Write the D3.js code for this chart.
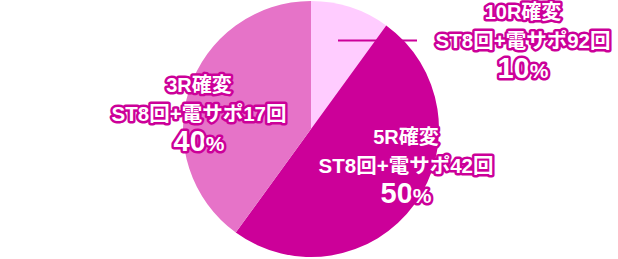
<!DOCTYPE html>
<meta charset="utf-8">
<style>
body { margin: 0; background: #fff; }
.lbl text {
  font-family: "Liberation Sans", "Noto Sans CJK JP", sans-serif;
  font-weight: bold;
  text-anchor: middle;
  fill: #fff;
  stroke: #cc0099;
  stroke-width: 5px;
  stroke-linejoin: round;
  paint-order: stroke;
}
</style>
<svg width="618" height="259"></svg>
<script src="https://cdn.jsdelivr.net/npm/d3@7"></script>
<script>

var names = ["10R確変", "5R確変", "3R確変"];
var details = ["ST8回+電サポ92回", "ST8回+電サポ42回", "ST8回+電サポ17回"];
var shares = [10, 50, 40];
var colors = ["#ffccff", "#cc0099", "#e673c8"];

var svg = d3.select("svg"),
    cx = 311, cy = 129, radius = 128;

var pie = d3.pie().sort(null).value(function(d) { return d; });
var arc = d3.arc().innerRadius(0).outerRadius(radius);

var g = svg.append("g").attr("transform", "translate(" + cx + "," + cy + ")");

g.selectAll("path")
    .data(pie(shares))
    .enter().append("path")
    .attr("d", arc)
    .attr("fill", function(d, i) { return colors[i]; });

// leader line for the small slice
svg.append("line")
    .attr("x1", 338).attr("x2", 417)
    .attr("y1", 40.5).attr("y2", 40.5)
    .attr("stroke", "#cc0099")
    .attr("stroke-width", 2);

// label anchor positions (centre x, first line baseline)
var labelPos = [[523, 19], [406, 144], [199, 92]];

var lbl = svg.selectAll(".lbl")
    .data(names)
    .enter().append("g")
    .attr("class", "lbl")
    .attr("transform", function(d, i) { return "translate(" + labelPos[i][0] + "," + labelPos[i][1] + ")"; });

lbl.append("text")
    .attr("y", 0)
    .style("font-size", "20px")
    .text(function(d) { return d; });

lbl.append("text")
    .attr("y", 29)
    .style("font-size", "20.5px")
    .text(function(d, i) { return details[i]; });

var pct = lbl.append("text")
    .attr("y", 59)
    .style("font-size", "29px");
pct.append("tspan").text(function(d, i) { return shares[i]; });
pct.append("tspan").style("font-size", "21px").text("%");

</script>
